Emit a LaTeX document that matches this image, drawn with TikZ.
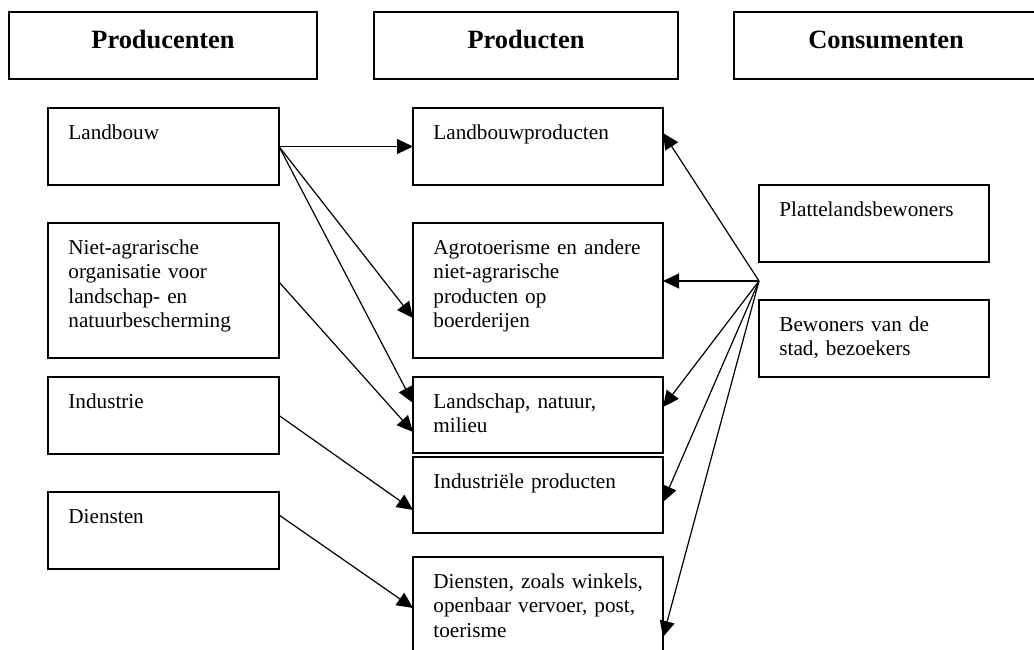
\documentclass[tikz,border=0pt]{standalone}
\usepackage{fontspec}
\setmainfont{Liberation Serif}
\usetikzlibrary{arrows.meta}

\begin{document}
\begin{tikzpicture}[x=0.5pt, y=-0.5pt, >={Triangle[length=8pt,width=7.5pt]},
	box/.style={draw, line width=0.7pt, anchor=north west, inner sep=0pt, outer sep=0pt},
	head/.style={box, font=\fontsize{13.2}{15}\selectfont\bfseries, text height=7pt, text depth=4.5pt},
	txt/.style={anchor=base west, inner sep=0pt, align=left, text width=112pt, font=\fontsize{10.6}{12.25}\selectfont},
	link/.style={->, line width=0.6pt}]
		\useasboundingbox (0,0) rectangle (1034,649);
		\clip (0,0) rectangle (1034,649);
		%Headers
		\node [head, minimum width=154pt, minimum height=33.5pt] (hprod) at (9,12) {Producenten};
		\node [head, minimum width=152pt, minimum height=33.5pt] (hprodt) at (374,12) {Producten};
		\node [head, minimum width=152pt, minimum height=33.5pt] (hcons) at (734,12) {Consumenten};
		%Producers
		\node [box, minimum width=115.5pt, minimum height=38.5pt] (landbouw) at (48,108) {};
		\node [box, minimum width=115.5pt, minimum height=67.5pt] (niet) at (48,223) {};
		\node [box, minimum width=115.5pt, minimum height=38.5pt] (industrie) at (48,377) {};
		\node [box, minimum width=115.5pt, minimum height=38.5pt] (diensten) at (48,492) {};
		\node [txt] (t-landbouw) at ([shift={(20,31)}]landbouw.north west) {Landbouw};
		\node [txt] (t-niet) at ([shift={(20,31)}]niet.north west) {Niet-agrarische\\organisatie voor\\landschap- en\\natuurbescherming};
		\node [txt] (t-industrie) at ([shift={(20,31)}]industrie.north west) {Industrie};
		\node [txt] (t-diensten) at ([shift={(20,31)}]diensten.north west) {Diensten};
		%Products
		\node [box, minimum width=125pt, minimum height=38.5pt] (lbprod) at (413,108) {};
		\node [box, minimum width=125pt, minimum height=67.5pt] (agro) at (413,223) {};
		\node [box, minimum width=125pt, minimum height=38pt] (landschap) at (413,377) {};
		\node [box, minimum width=125pt, minimum height=38pt] (indprod) at (413,457) {};
		\node [box, minimum width=125pt, minimum height=55pt] (dienprod) at (413,557) {};
		\node [txt] (t-lbprod) at ([shift={(20,31)}]lbprod.north west) {Landbouwproducten};
		\node [txt] (t-agro) at ([shift={(20,31)}]agro.north west) {Agrotoerisme en andere\\niet-agrarische\\producten op\\boerderijen};
		\node [txt] (t-landschap) at ([shift={(20,31)}]landschap.north west) {Landschap, natuur,\\milieu};
		\node [txt] (t-indprod) at ([shift={(20,31)}]indprod.north west) {Industriële producten};
		\node [txt] (t-dienprod) at ([shift={(20,31)}]dienprod.north west) {Diensten, zoals winkels,\\openbaar vervoer, post,\\toerisme};
		%Consumers
		\node [box, minimum width=115pt, minimum height=38.5pt] (platteland) at (759,185) {};
		\node [box, minimum width=115pt, minimum height=38.5pt] (bewoners) at (759,300) {};
		\node [txt] (t-platteland) at ([shift={(20,31)}]platteland.north west) {Plattelandsbewoners};
		\node [txt] (t-bewoners) at ([shift={(20,31)}]bewoners.north west) {Bewoners van de\\stad, bezoekers};
		\coordinate (hub) at (759,281);
		%Producers-products
		\draw [link] (landbouw.east) -- (lbprod.west);
		\draw [link] (landbouw.east) -- ([shift={(0,27.5)}]agro.west);
		\draw [link] (landbouw.east) -- ([shift={(0,-12)}]landschap.west);
		\draw [link] ([shift={(0,-8.5)}]niet.east) -- ([shift={(0,17)}]landschap.west);
		\draw [link] (industrie.east) -- ([shift={(0,15)}]indprod.west);
		\draw [link] ([shift={(0,-15.5)}]diensten.east) -- ([shift={(0,-4)}]dienprod.west);
		%Consumers-products
		\draw [link] (hub) -- ([shift={(0,-13.5)}]lbprod.east);
		\draw [link] (hub) -- ([shift={(0,-9.5)}]agro.east);
		\draw [link] (hub) -- ([shift={(0,-8)}]landschap.east);
		\draw [link] (hub) -- ([shift={(0,7)}]indprod.east);
		\draw [link] (hub) -- ([shift={(0,25)}]dienprod.east);
\end{tikzpicture}
\end{document}
